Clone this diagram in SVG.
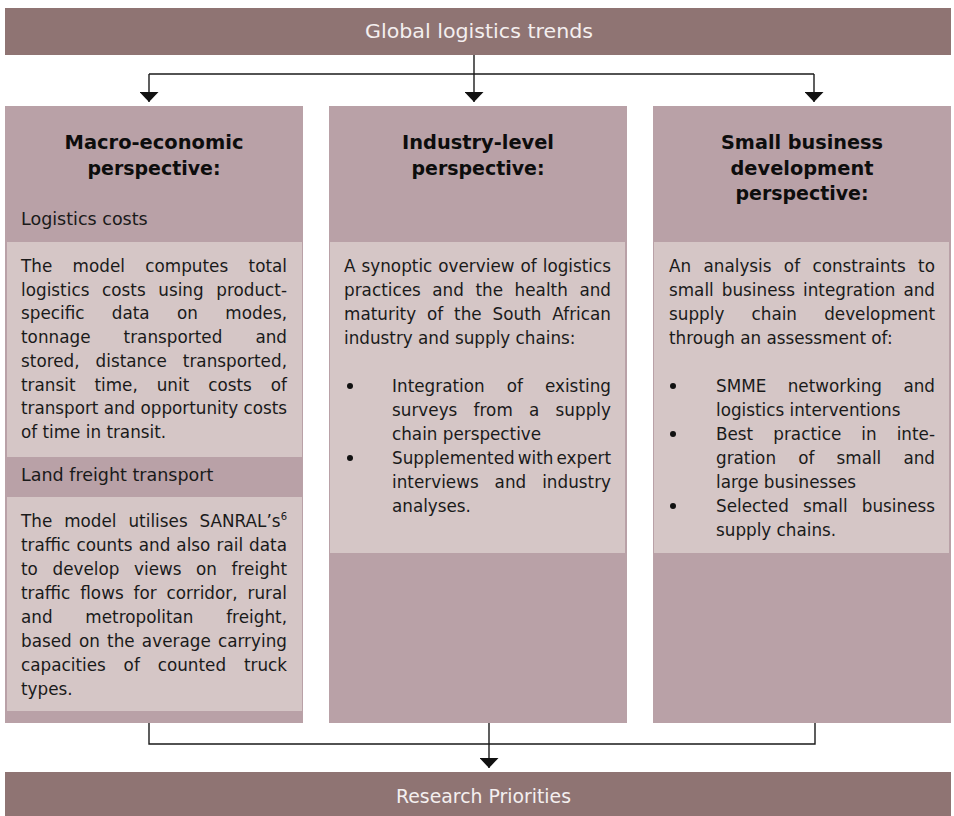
<svg xmlns="http://www.w3.org/2000/svg" width="954" height="816" viewBox="0 0 954 816">
<defs>
<style>
.ban{fill:#8F7473}
.col{fill:#B9A1A7}
.lite{fill:#D5C6C6}
.bt{font-family:"DejaVu Sans","Liberation Sans",sans-serif;font-size:20px;fill:#F4EFEF;font-weight:normal}
.h{font-family:"DejaVu Sans","Liberation Sans",sans-serif;font-size:19.5px;font-weight:bold;fill:#0d0d0d;text-anchor:middle}
.t{font-family:"DejaVu Sans","Liberation Sans",sans-serif;font-size:16.8px;fill:#1a1a1a}
.sub{font-size:17.5px}
.dot{fill:#111}
.ln{fill:none;stroke:#1a1a1a;stroke-width:1.4}
</style>
<marker id="arr" markerUnits="userSpaceOnUse" markerWidth="10" markerHeight="19" refX="10" refY="9.5" orient="auto" viewBox="0 0 10 19">
<path d="M0,0 L10,9.5 L0,19 Z" fill="#111"/>
</marker>
</defs>

<g id="global-trends">
<rect class="ban" x="5" y="8" width="946" height="47"/>
<text class="bt" x="365" y="38" textLength="228" lengthAdjust="spacingAndGlyphs">Global logistics trends</text>
</g>

<g id="macro">
<rect class="col" x="5" y="106" width="298" height="617"/>
<rect class="lite" x="7" y="242" width="295" height="215"/>
<rect class="lite" x="7" y="497" width="295" height="214"/>
<text class="h" x="154" y="149" textLength="179" lengthAdjust="spacingAndGlyphs">Macro-economic</text>
<text class="h" x="154" y="175" textLength="133" lengthAdjust="spacingAndGlyphs">perspective:</text>
<text class="t sub" x="21" y="225">Logistics costs</text>
<text class="t" x="21" y="272" word-spacing="15" textLength="266" lengthAdjust="spacing">The model computes total</text>
<text class="t" x="21" y="296" word-spacing="7.2" textLength="266" lengthAdjust="spacing">logistics costs using product-</text>
<text class="t" x="21" y="319" word-spacing="22" textLength="266" lengthAdjust="spacing">specific data on modes,</text>
<text class="t" x="21" y="343" word-spacing="27.7" textLength="266" lengthAdjust="spacing">tonnage transported and</text>
<text class="t" x="21" y="367" word-spacing="10.5" textLength="266" lengthAdjust="spacing">stored, distance transported,</text>
<text class="t" x="21" y="391" word-spacing="13.6" textLength="266" lengthAdjust="spacing">transit time, unit costs of</text>
<text class="t" x="21" y="414" textLength="266" lengthAdjust="spacing">transport and opportunity costs</text>
<text class="t" x="21" y="438">of time in transit.</text>
<text class="t sub" x="21" y="481">Land freight transport</text>
<text class="t" x="21" y="527" word-spacing="6.5" textLength="266" lengthAdjust="spacing">The model utilises SANRAL’s<tspan font-size="10" dy="-7">6</tspan></text>
<text class="t" x="21" y="551" word-spacing="0.7" textLength="266" lengthAdjust="spacing">traffic counts and also rail data</text>
<text class="t" x="21" y="575" word-spacing="9.2" textLength="266" lengthAdjust="spacing">to develop views on freight</text>
<text class="t" x="21" y="599" word-spacing="4.5" textLength="266" lengthAdjust="spacing">traffic flows for corridor, rural</text>
<text class="t" x="21" y="623" word-spacing="27.3" textLength="266" lengthAdjust="spacing">and metropolitan freight,</text>
<text class="t" x="21" y="647" word-spacing="1.8" textLength="266" lengthAdjust="spacing">based on the average carrying</text>
<text class="t" x="21" y="671" word-spacing="12.5" textLength="266" lengthAdjust="spacing">capacities of counted truck</text>
<text class="t" x="21" y="695">types.</text>
</g>

<g id="industry">
<rect class="col" x="329" y="106" width="298" height="617"/>
<rect class="lite" x="330" y="242" width="295" height="311"/>
<text class="h" x="478" y="149" textLength="152" lengthAdjust="spacingAndGlyphs">Industry-level</text>
<text class="h" x="478" y="175" textLength="133" lengthAdjust="spacingAndGlyphs">perspective:</text>
<text class="t" x="344" y="272" word-spacing="0.7" textLength="267" lengthAdjust="spacing">A synoptic overview of logistics</text>
<text class="t" x="344" y="296" word-spacing="6.2" textLength="267" lengthAdjust="spacing">practices and the health and</text>
<text class="t" x="344" y="320" word-spacing="5.5" textLength="267" lengthAdjust="spacing">maturity of the South African</text>
<text class="t" x="344" y="344">industry and supply chains:</text>
<circle class="dot" cx="350" cy="386" r="3"/>
<text class="t" x="392" y="392" word-spacing="16.6" textLength="219" lengthAdjust="spacing">Integration of existing</text>
<text class="t" x="392" y="416" word-spacing="10.9" textLength="219" lengthAdjust="spacing">surveys from a supply</text>
<text class="t" x="392" y="440">chain perspective</text>
<circle class="dot" cx="350" cy="458" r="3"/>
<text class="t" x="392" y="464" word-spacing="-2.3" textLength="219" lengthAdjust="spacing">Supplemented with expert</text>
<text class="t" x="392" y="488" word-spacing="10.6" textLength="219" lengthAdjust="spacing">interviews and industry</text>
<text class="t" x="392" y="512">analyses.</text>
</g>

<g id="small-business">
<rect class="col" x="653" y="106" width="298" height="617"/>
<rect class="lite" x="654" y="242" width="295" height="311"/>
<text class="h" x="802" y="149" textLength="162" lengthAdjust="spacingAndGlyphs">Small business</text>
<text class="h" x="802" y="175" textLength="143" lengthAdjust="spacingAndGlyphs">development</text>
<text class="h" x="802" y="200" textLength="133" lengthAdjust="spacingAndGlyphs">perspective:</text>
<text class="t" x="669" y="272" word-spacing="7" textLength="266" lengthAdjust="spacing">An analysis of constraints to</text>
<text class="t" x="669" y="296" word-spacing="2.7" textLength="266" lengthAdjust="spacing">small business integration and</text>
<text class="t" x="669" y="320" word-spacing="21.8" textLength="266" lengthAdjust="spacing">supply chain development</text>
<text class="t" x="669" y="344">through an assessment of:</text>
<circle class="dot" cx="673" cy="386" r="3"/>
<text class="t" x="716" y="392" word-spacing="16.1" textLength="219" lengthAdjust="spacing">SMME networking and</text>
<text class="t" x="716" y="416">logistics interventions</text>
<circle class="dot" cx="673" cy="434" r="3"/>
<text class="t" x="716" y="440" word-spacing="14.7" textLength="219" lengthAdjust="spacing">Best practice in inte-</text>
<text class="t" x="716" y="464" word-spacing="16.8" textLength="219" lengthAdjust="spacing">gration of small and</text>
<text class="t" x="716" y="488">large businesses</text>
<circle class="dot" cx="673" cy="506" r="3"/>
<text class="t" x="716" y="512" word-spacing="8.7" textLength="219" lengthAdjust="spacing">Selected small business</text>
<text class="t" x="716" y="536">supply chains.</text>
</g>

<g id="research-priorities">
<rect class="ban" x="5" y="772" width="946" height="44"/>
<text class="bt" x="396" y="803" textLength="175" lengthAdjust="spacingAndGlyphs">Research Priorities</text>
</g>

<g id="connectors">
<path class="ln" d="M474,55 V102" marker-end="url(#arr)"/>
<path class="ln" d="M149,74 H814"/>
<path class="ln" d="M149,74 V102" marker-end="url(#arr)"/>
<path class="ln" d="M814,74 V102" marker-end="url(#arr)"/>
<path class="ln" d="M149,723 V744 H815 V723"/>
<path class="ln" d="M489,723 V768" marker-end="url(#arr)"/>
</g>
</svg>
